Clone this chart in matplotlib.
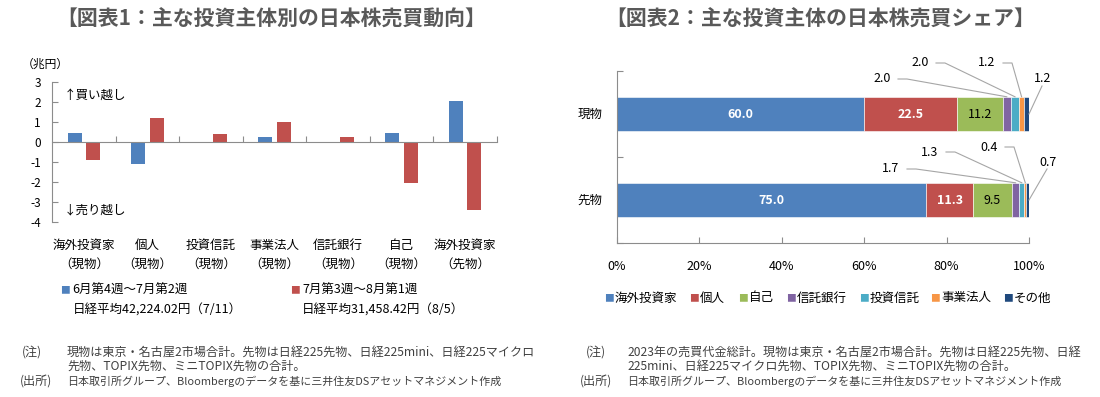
import matplotlib
matplotlib.use('Agg')
import matplotlib.pyplot as plt
from matplotlib.lines import Line2D
from matplotlib.transforms import blended_transform_factory, IdentityTransform
import numpy as np

plt.rcParams['font.family'] = ['Noto Sans CJK JP', 'DejaVu Sans']

# ---------------- data ----------------
cat1_line1 = ['海外投資家', '個人', '投資信託', '事業法人', '信託銀行', '自己', '海外投資家']
cat1_line2 = ['（現物）', '（現物）', '（現物）', '（現物）', '（現物）', '（現物）', '（先物）']
period1_name = '6月第4週～7月第2週'
period1_sub = '日経平均42,224.02円（7/11）'
period2_name = '7月第3週～8月第1週'
period2_sub = '日経平均31,458.42円（8/5）'
period1 = [0.47, -1.08, -0.05, 0.27, 0.01, 0.47, 2.07]
period2 = [-0.88, 1.20, 0.38, 1.02, 0.27, -2.07, -3.40]
yticks1 = [3, 2, 1, 0, -1, -2, -3, -4]

cats2 = ['現物', '先物']
investors2 = ['海外投資家', '個人', '自己', '信託銀行', '投資信託', '事業法人', 'その他']
genbutsu = [60.0, 22.5, 11.2, 2.0, 2.0, 1.2, 1.2]
sakimono = [75.0, 11.3, 9.5, 1.7, 1.3, 0.4, 0.7]
xticks2 = [0, 20, 40, 60, 80, 100]

colors2 = ['#4F81BD', '#C0504D', '#9BBB59', '#8064A2', '#4BACC6', '#F79646', '#1F497D']
c_blue, c_red = '#4F81BD', '#C0504D'
axis_col = '#8C8C8C'
title_col = '#595959'
note_col = '#404040'

W, H = 1100, 397
fig = plt.figure(figsize=(W / 100, H / 100), dpi=100)
fig.patch.set_facecolor('white')

def fx(x):
    return x / W

def fy(y):
    return 1 - y / H

# ---------------- titles ----------------
fig.text(fx(271), fy(19), '【図表1：主な投資主体別の日本株売買動向】', ha='center', va='center',
         fontsize=15, fontweight='bold', color=title_col)
fig.text(fx(820), fy(19), '【図表2：主な投資主体の日本株売買シェア】', ha='center', va='center',
         fontsize=15, fontweight='bold', color=title_col)

# ---------------- chart 1 ----------------
ax1 = fig.add_axes([fx(52), fy(222), (497 - 52) / W, 140 / H])
n1 = len(cat1_line1)
x1 = np.arange(n1)
bw = 0.22
ax1.bar(x1 - 0.145, period1, width=bw, color=c_blue, zorder=2)
ax1.bar(x1 + 0.145, period2, width=bw, color=c_red, zorder=2)
ax1.set_xlim(-0.5, n1 - 0.5)
ax1.set_ylim(-4, 3)
ax1.set_yticks(yticks1)
ax1.set_yticklabels([str(v) for v in yticks1], fontsize=8.5)
for s in ['top', 'right']:
    ax1.spines[s].set_visible(False)
ax1.spines['left'].set_color(axis_col)
ax1.spines['bottom'].set_position(('data', 0))
ax1.spines['bottom'].set_color(axis_col)
ax1.set_xticks(np.arange(n1) + 0.5)
ax1.set_xticklabels([])
ax1.tick_params(axis='y', direction='in', length=4, color=axis_col, pad=8)
ax1.tick_params(axis='x', direction='in', length=4, color=axis_col)
ax1.text(-0.31, 2.35, '↑買い越し', fontsize=9, ha='left', va='center')
ax1.text(-0.31, -3.42, '↓売り越し', fontsize=9, ha='left', va='center')
fig.text(fx(22), fy(64), '（兆円）', fontsize=8.5, ha='left', va='center')

tr1 = blended_transform_factory(ax1.transData, fig.transFigure)
for i in range(n1):
    ax1.text(x1[i], fy(245), cat1_line1[i], transform=tr1, ha='center', va='center', fontsize=9)
    ax1.text(x1[i], fy(264), cat1_line2[i], transform=tr1, ha='center', va='center', fontsize=9)

# legend 1
fig.text(fx(60), fy(290), '■', color=c_blue, fontsize=7, ha='left', va='center')
fig.text(fx(72), fy(290), period1_name, fontsize=9, ha='left', va='center')
fig.text(fx(73), fy(310), period1_sub, fontsize=9, ha='left', va='center')
fig.text(fx(290), fy(290), '■', color=c_red, fontsize=7, ha='left', va='center')
fig.text(fx(302), fy(290), period2_name, fontsize=9, ha='left', va='center')
fig.text(fx(302), fy(310), period2_sub, fontsize=9, ha='left', va='center')

# notes 1
fig.text(fx(22), fy(352), '(注)', fontsize=8.7, color=note_col, ha='left', va='center')
fig.text(fx(67), fy(352), '現物は東京・名古屋2市場合計。先物は日経225先物、日経225mini、日経225マイクロ',
         fontsize=8.7, color=note_col, ha='left', va='center')
fig.text(fx(67), fy(366), '先物、TOPIX先物、ミニTOPIX先物の合計。', fontsize=8.7, color=note_col,
         ha='left', va='center')
fig.text(fx(20), fy(381), '(出所)', fontsize=8.7, color=note_col, ha='left', va='center')
fig.text(fx(67), fy(381), '日本取引所グループ、Bloombergのデータを基に三井住友DSアセットマネジメント作成',
         fontsize=7.9, color=note_col, ha='left', va='center')

# ---------------- chart 2 ----------------
ax2 = fig.add_axes([fx(617), fy(243), (1029 - 617) / W, (243 - 71) / H])
ax2.set_xlim(0, 100)
ax2.set_ylim(1.5, -0.5)
rows = [genbutsu, sakimono]
bh = 0.4
seg_info = []
for r, vals in enumerate(rows):
    tot = sum(vals)
    left = 0.0
    info = []
    for k, v in enumerate(vals):
        w = v / tot * 100
        ax2.barh(r, w, left=left, height=bh, color=colors2[k], edgecolor='white', linewidth=0.4, zorder=2)
        info.append((left, left + w))
        left += w
    seg_info.append(info)

# inside labels for the big three
for r, vals in enumerate(rows):
    for k in range(3):
        a, b = seg_info[r][k]
        if k < 2:
            ax2.text((a + b) / 2, r, f'{vals[k]:.1f}', ha='center', va='center', fontsize=9,
                     color='white', fontweight='bold', zorder=3)
        else:
            ax2.text((a + b) / 2, r, f'{vals[k]:.1f}', ha='center', va='center', fontsize=9,
                     color='black', zorder=3)

# callout labels (pixel layout) for the small segments
callout_px = [
    [(882, 79), (920, 63), (987, 63), (1043, 79)],
    [(891, 169), (930, 152), (989, 147), (1048, 162)],
]
fig.canvas.draw()
lead_col = '#A6A6A6'
for r, vals in enumerate(rows):
    for j, k in enumerate(range(3, 7)):
        px, py = callout_px[r][j]
        fig.text(fx(px), fy(py), f'{vals[k]:.1f}', ha='center', va='center', fontsize=9, zorder=5)
        a, b = seg_info[r][k]
        if k < 6:
            sx, sy = ax2.transData.transform(((a + b) / 2, r - bh / 2))
            xs = [px + 16, px + 25, sx]
            ys = [H - py, H - py, sy]
        else:
            sx, sy = ax2.transData.transform((b, r))
            xs = [px - 1, sx]
            ys = [H - py - 7, sy]
        fig.lines.append(Line2D(xs, ys, transform=IdentityTransform(), color=lead_col, lw=0.8))

for s in ['top', 'right']:
    ax2.spines[s].set_visible(False)
ax2.spines['left'].set_color(axis_col)
ax2.spines['bottom'].set_color(axis_col)
ax2.set_yticks([-0.5, 0.5, 1.5])
ax2.set_yticklabels([])
ax2.tick_params(axis='y', direction='in', length=4, color=axis_col)
ax2.set_xticks(xticks2)
ax2.set_xticklabels([f'{v}%' for v in xticks2], fontsize=9)
ax2.tick_params(axis='x', direction='in', length=4, color=axis_col, pad=12)
for r, c in enumerate(cats2):
    tr2 = blended_transform_factory(fig.transFigure, ax2.transData)
    ax2.text(fx(590), r, c, transform=tr2, ha='center', va='center', fontsize=9)

# legend 2
leg_x = [604, 689, 738, 786, 859, 930, 1003]
for k, name in enumerate(investors2):
    fig.text(fx(leg_x[k]), fy(298), '■', color=colors2[k], fontsize=7, ha='left', va='center')
    fig.text(fx(leg_x[k] + 11), fy(298), name, fontsize=9, ha='left', va='center')

# notes 2
fig.text(fx(586), fy(352), '(注)', fontsize=8.7, color=note_col, ha='left', va='center')
fig.text(fx(627), fy(352), '2023年の売買代金総計。現物は東京・名古屋2市場合計。先物は日経225先物、日経',
         fontsize=8.7, color=note_col, ha='left', va='center')
fig.text(fx(627), fy(366), '225mini、日経225マイクロ先物、TOPIX先物、ミニTOPIX先物の合計。', fontsize=8.7,
         color=note_col, ha='left', va='center')
fig.text(fx(580), fy(381), '(出所)', fontsize=8.7, color=note_col, ha='left', va='center')
fig.text(fx(627), fy(381), '日本取引所グループ、Bloombergのデータを基に三井住友DSアセットマネジメント作成',
         fontsize=7.9, color=note_col, ha='left', va='center')

fig.savefig('out.png', dpi=100, facecolor='white')
